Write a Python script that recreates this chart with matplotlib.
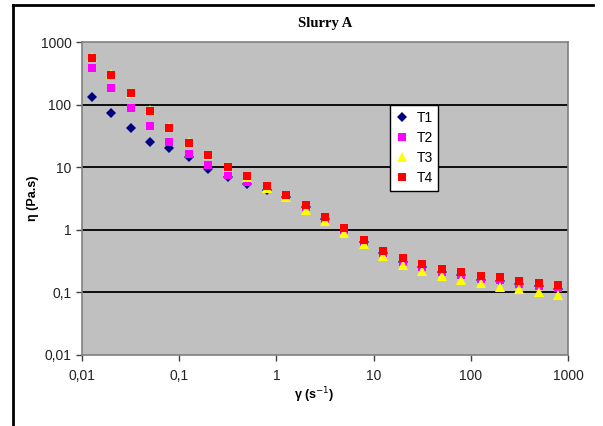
import matplotlib
matplotlib.use("Agg")
import matplotlib.pyplot as plt
from matplotlib.lines import Line2D
from matplotlib.ticker import FixedLocator, FixedFormatter, NullLocator

shear_rate = [0.0126, 0.02, 0.0316, 0.0501, 0.0794, 0.126, 0.2, 0.316, 0.501, 0.794,
              1.26, 2.0, 3.16, 5.01, 7.94, 12.6, 20.0, 31.6, 50.1, 79.4,
              126, 200, 316, 501, 794]

T1 = [134, 72.6, 41.8, 25.6, 20, 14.7, 9.25, 7.0, 5.4, 4.4,
      3.4, 2.3, 1.5, 1.0, 0.63, 0.43, 0.31, 0.25, 0.21, 0.19,
      0.16, 0.15, 0.135, 0.125, 0.115]
T2 = [389, 182, 87, 46, 25, 16.2, 10.8, 7.5, 5.8, 4.5,
      3.4, 2.3, 1.5, 1.0, 0.63, 0.43, 0.31, 0.255, 0.21, 0.19,
      0.162, 0.155, 0.138, 0.125, 0.117]
T3 = [580, 305, 155, 81, 44, 25, 15.5, 10.0, 7.0, 4.7,
      3.3, 2.07, 1.4, 0.9, 0.59, 0.38, 0.274, 0.222, 0.183, 0.158,
      0.14, 0.12, 0.112, 0.103, 0.091]
T4 = [560, 297, 151, 79, 42, 24, 15.5, 10.2, 7.2, 5.0,
      3.6, 2.5, 1.62, 1.06, 0.69, 0.465, 0.35, 0.284, 0.237, 0.214,
      0.183, 0.174, 0.154, 0.14, 0.131]

decade_ticks = [0.01, 0.1, 1, 10, 100, 1000]
decade_labels = ["0,01", "0,1", "1", "10", "100", "1000"]

series = [
    ("T1", T1, "D", "#000080", 5.0),
    ("T2", T2, "s", "#FF00FF", 5.5),
    ("T3", T3, "^", "#FFFF00", 6.5),
    ("T4", T4, "s", "#FF0000", 5.5),
]

fig = plt.figure(figsize=(6.03, 4.26), dpi=100)
ax = fig.add_axes([82/603, 1-355/426, (568-82)/603, (355-42)/426])
ax.set_facecolor("#C0C0C0")
ax.set_xscale("log")
ax.set_yscale("log")
ax.set_xlim(0.01, 1000)
ax.set_ylim(0.01, 1000)

for y in decade_ticks[1:-1]:
    ax.axhline(y, color="black", lw=1.3, zorder=1)

for name, vals, mk, col, ms in series:
    ax.plot(shear_rate, vals, linestyle="none", marker=mk, color=col,
            markersize=ms, markeredgewidth=0, label=name, zorder=3)

for ax_ in (ax.xaxis, ax.yaxis):
    ax_.set_major_locator(FixedLocator(decade_ticks))
    ax_.set_major_formatter(FixedFormatter(decade_labels))
    ax_.set_minor_locator(NullLocator())

for s in ax.spines.values():
    s.set_color("#808080")
    s.set_linewidth(1.2)
ax.tick_params(axis="both", direction="out", length=4, width=1, color="#404040",
               labelsize=10, labelcolor="#222222")
ax.tick_params(axis="x", pad=6)
for lab in ax.get_xticklabels() + ax.get_yticklabels():
    lab.set_family(["Liberation Sans", "DejaVu Sans"])

ax.set_title("Slurry A", fontsize=10.5, fontweight="bold",
             family=["Liberation Serif", "DejaVu Serif"], pad=11)
ax.set_xlabel("γ (s$^{-1}$)", fontsize=9, fontweight="bold",
              family=["Liberation Sans", "DejaVu Sans"])
ax.xaxis.set_label_coords((314-82)/486, -(385-355)/313)
ax.set_ylabel("η (Pa.s)", fontsize=9, fontweight="bold",
              family=["Liberation Sans", "DejaVu Sans"])
ax.yaxis.set_label_coords((33-82)/486, 0.5)
ax.yaxis.label.set_va("center")

leg = ax.legend(loc="upper left", bbox_to_anchor=((390-82)/486, (355-105)/313),
                frameon=True, fancybox=False, framealpha=1, edgecolor="black",
                facecolor="white", prop={"family": "Liberation Sans", "size": 10},
                handlelength=0.9, handletextpad=0.6, borderpad=0.4,
                labelspacing=0.45, borderaxespad=0)
leg.get_frame().set_linewidth(1.0)
leg.set_zorder(5)

# outer border (left and top)
fig.add_artist(Line2D([13/603, 13/603], [0, 1-5/426], color="black", lw=2))
fig.add_artist(Line2D([13/603, 593/603], [1-5/426, 1-5/426], color="black", lw=2))

fig.savefig("out.png", dpi=100)
